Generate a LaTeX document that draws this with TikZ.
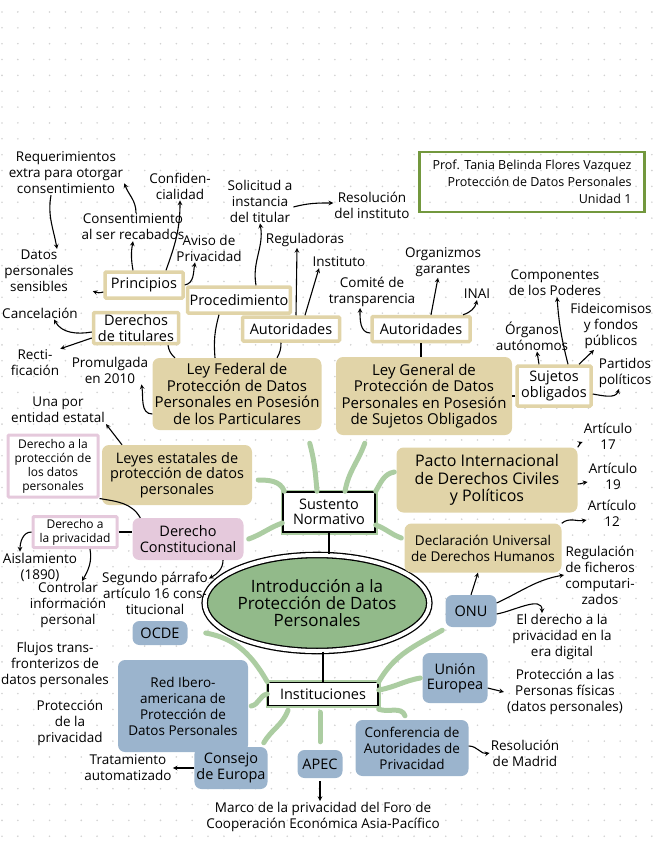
\documentclass[tikz,border=0pt]{standalone}
\usepackage{fontspec}
\setmainfont{Open Sans}
\usetikzlibrary{shapes.geometric}

\definecolor{beige}{RGB}{225,212,168}
\definecolor{rosa}{RGB}{229,201,220}
\definecolor{azul}{RGB}{155,180,205}
\definecolor{verdeF}{RGB}{146,186,138}
\definecolor{verdeR}{RGB}{172,205,162}
\definecolor{verdeT}{RGB}{115,152,62}

\newcommand\fA{\fontsize{13.5}{16}\selectfont}
\newcommand\fB{\fontsize{14.5}{15.5}\selectfont}
\newcommand\fL{\fontsize{15}{16.5}\selectfont}
\newcommand\fS{\fontsize{12}{14}\selectfont}
\newcommand\fC{\fontsize{17}{17}\selectfont}

\tikzset{
  nota/.style={font=\fA, align=center, inner sep=1pt},
  tam/.style 2 args={minimum width=#1pt, minimum height=#2pt},
  caja/.style={font=\fB, align=center, rounded corners=7pt, inner sep=2pt},
  cajabeige/.style={caja, fill=beige},
  marcobeige/.style={caja, fill=white, draw=beige, line width=3.5pt, rounded corners=1pt},
  cajarosa/.style={caja, fill=rosa},
  marcorosa/.style={caja, font=\fS, fill=white, draw=rosa, line width=3pt, rounded corners=1pt},
  cajaazul/.style={caja, fill=azul},
  cajanegra/.style={caja, fill=white, draw=black, line width=1.5pt, rounded corners=0pt,
    preaction={draw=verdeR, line width=5pt}},
  flecha/.style={->, line width=1.1pt},
  linea/.style={line width=1.1pt},
  rama/.style={verdeR, line width=5pt, line cap=round},
}

\begin{document}
\begin{tikzpicture}[>=stealth, x=1pt, y=1pt]

  \useasboundingbox (0,0) rectangle (656,-848);

  % 点阵
  \foreach \i in {0,...,41}
    \foreach \j in {0,...,52}
      \fill[gray!35] ({2+15.85*\i},{-12-15.85*\j}) circle (0.9pt);

  % 标题
  \node[draw=verdeT, line width=2.5pt, font=\fontsize{12.5}{17}\selectfont, align=right, tam={225}{60}, inner sep=4pt]
    (titulo) at (532,-182) {Prof. Tania Belinda Flores Vazquez\\Protección de Datos Personales\\Unidad 1};

  % 中心
  \node[ellipse, draw, double=white, double distance=4pt, line width=1.3pt, fill=verdeF,
    tam={214}{96}, font=\fC, align=center, inner sep=0pt]
    (centro) at (317,-603) {Introducción a la\\Protección de Datos\\Personales};
  \node[cajanegra, tam={92}{40}] (sust) at (329,-512) {Sustento\\Normativo};
  \node[cajanegra, tam={110}{23}] (inst) at (323,-694) {Instituciones};
  \draw[line width=2.5pt] (sust.south) -- (sust.south |- centro.north);
  \draw[line width=2.5pt] (inst.north |- centro.south) -- (inst.north);

  % 法规
  \node[cajabeige, font=\fL, tam={161}{72}] (leyfed) at (237,-394) {Ley Federal de\\Protección de Datos\\Personales en Posesión\\de los Particulares};
  \node[cajabeige, font=\fL, tam={176}{78}] (leygen) at (424,-396) {Ley General de\\Protección de Datos\\Personales en Posesión\\de Sujetos Obligados};
  \node[cajabeige, tam={150}{60}] (estatal) at (177,-475) {Leyes estatales de\\protección de datos\\personales};
  \node[cajabeige, font=\fontsize{16}{17.5}\selectfont, tam={181}{65}] (pacto) at (487,-480) {Pacto Internacional\\de Derechos Civiles\\y Políticos};
  \node[cajabeige, font=\fA, tam={157}{49}] (declar) at (483,-548) {Declaración Universal\\de Derechos Humanos};
  \node[marcobeige, tam={74}{40}] (sujetos) at (554,-386) {Sujetos\\obligados};
  \node[marcobeige, tam={98}{25}] (autder) at (421,-329) {Autoridades};
  \node[marcobeige, tam={97}{24}] (autizq) at (291,-329) {Autoridades};
  \node[marcobeige, tam={98}{26}] (proced) at (239,-300) {Procedimiento};
  \node[marcobeige, tam={78}{26}] (princ) at (144,-285) {Principios};
  \node[marcobeige, tam={85}{31}] (dertit) at (136,-328) {Derechos\\de titulares};

  % 宪法
  \node[cajarosa, tam={111}{42}] (dercons) at (188,-539) {Derecho\\Constitucional};
  \node[marcorosa, tam={90}{62}] (derprot) at (53,-466) {Derecho a la\\protección de\\los datos\\personales};
  \node[marcorosa, tam={84}{31}] (derpriv) at (75,-532) {Derecho a\\la privacidad};

  % 机构
  \node[cajaazul, tam={55}{24}] (ocde) at (160,-633) {OCDE};
  \node[cajaazul, font=\fA, tam={130}{92}] (redibero) at (183,-706) {Red Ibero-\\americana de\\Protección de\\Datos Personales};
  \node[cajaazul, tam={51}{32}] (onu) at (471,-611) {ONU};
  \node[cajaazul, tam={65}{50}] (union) at (455,-678) {Unión\\Europea};
  \node[cajaazul, font=\fA, tam={113}{56}] (confer) at (412,-748) {Conferencia de\\Autoridades de\\Privacidad};
  \node[cajaazul, tam={62}{42}] (consejo) at (231,-768) {Consejo\\de Europa};
  \node[cajaazul, tam={45}{28}] (apec) at (320,-764) {APEC};

  % 注释
  \node[nota] (req) at (66,-173) {Requerimientos\\extra para otorgar\\consentimiento};
  \node[nota] (consen) at (133,-227) {Consentimiento\\al ser recabados};
  \node[nota] (confid) at (180,-186) {Confiden-\\cialidad};
  \node[nota] (aviso) at (209,-248) {Aviso de\\Privacidad};
  \node[nota] (datsens) at (39,-271) {Datos\\personales\\sensibles};
  \node[nota] (solic) at (260,-201) {Solicitud a\\instancia\\del titular};
  \node[nota] (resol) at (372,-205) {Resolución\\del instituto};
  \node[nota] (regul) at (305,-240) {Reguladoras};
  \node[nota] (insti) at (339,-262) {Instituto};
  \node[nota] (comite) at (372,-292) {Comité de\\transparencia};
  \node[nota] (organ) at (443,-262) {Organizmos\\garantes};
  \node[nota] (inai) at (477,-294) {INAI};
  \node[nota] (compo) at (555,-283) {Componentes\\de los Poderes};
  \node[nota] (fideic) at (611,-326) {Fideicomisos\\y fondos\\públicos};
  \node[nota] (organos) at (532,-336) {Órganos\\autónomos};
  \node[nota] (partid) at (625,-373) {Partidos\\políticos};
  \node[nota] (cancel) at (40,-313) {Cancelación};
  \node[nota] (rectif) at (35,-363) {Recti-\\ficación};
  \node[nota] (promul) at (110,-370) {Promulgada\\en 2010};
  \node[nota] (unapor) at (58,-410) {Una por\\entidad estatal};
  \node[nota] (art17) at (608,-436) {Artículo\\17};
  \node[nota] (art19) at (613,-476) {Artículo\\19};
  \node[nota] (art12) at (612,-513) {Artículo\\12};
  \node[nota] (aislam) at (40,-567) {Aislamiento\\(1890)};
  \node[nota] (control) at (68,-605) {Controlar\\información\\personal};
  \node[nota] (segundo) at (155,-593) {Segundo párrafo\\artículo 16 cons-\\titucional};
  \node[nota] (flujos) at (55,-665) {Flujos trans-\\fronterizos de\\datos personales};
  \node[nota] (protpriv) at (70,-723) {Protección\\de la\\privacidad};
  \node[nota] (regfich) at (600,-575) {Regulación\\de ficheros\\computari-\\zados};
  \node[nota] (erad) at (562,-637) {El derecho a la\\privacidad en la\\era digital};
  \node[nota] (protfis) at (565,-692) {Protección a las\\Personas físicas\\(datos personales)};
  \node[nota] (tratam) at (128,-768) {Tratamiento\\automatizado};
  \node[nota] (madrid) at (525,-753) {Resolución\\de Madrid};
  \node[nota] (marco) at (323,-817) {Marco de la privacidad del Foro de\\Cooperación Económica Asia-Pacífico};

  % 绿色分支
  \draw[rama] ([xshift=-12pt]sust.north) to[out=95,in=-75] ([shift={(-12pt,-13pt)}]leyfed.south east);
  \draw[rama] ([xshift=16pt]sust.north) to[out=80,in=-110] ([shift={(29pt,-8pt)}]leygen.south west);
  \draw[rama] ([xshift=2pt]sust.north west) to[out=110,in=0] ([shift={(6pt,-5pt)}]estatal.east);
  \draw[rama] (sust.north east) to[out=60,in=190] ([shift={(-2pt,8pt)}]pacto.west);
  \draw[rama] ([yshift=-11pt]sust.west) to[out=200,in=20] ([xshift=5pt]dercons.east);
  \draw[rama] ([yshift=-13pt]sust.east) to[out=-20,in=160] ([shift={(-3pt,10pt)}]declar.west);
  \draw[rama] ([xshift=18pt]ocde.east) to[out=-10,in=120] (inst.north west);
  \draw[rama] (inst.west) to[out=190,in=10] ([xshift=3pt]redibero.east);
  \draw[rama] ([shift={(-35pt,-4pt)}]inst.south) to[out=-110,in=60] ([shift={(-4pt,4pt)}]consejo.north east);
  \draw[rama, shorten <=6pt, shorten >=8pt] (inst.south -| apec.north) -- (apec.north);
  \draw[rama] ([yshift=-3pt]inst.south east) to[out=-20,in=110] ([shift={(-7pt,4pt)}]confer.north);
  \draw[rama] ([yshift=4pt]inst.east) to[out=10,in=190] ([xshift=-2pt]union.west);
  \draw[rama] (inst.north east) to[out=60,in=210] ([shift={(-3pt,-3pt)}]onu.south west);

  % 连线
  \draw[linea] (leygen.east) -- (leygen.east -| sujetos.west);
  \draw[linea] (autder.south) -- (autder.south |- leygen.north);
  \draw[linea] ([xshift=-10pt]autizq.south) to[bend left=15] ([xshift=40pt]leyfed.north);
  \draw[linea] ([xshift=-20pt]proced.south) to[bend right=10] ([xshift=-22pt]leyfed.north);
  \draw[linea] ([xshift=32pt]dertit.south) to[bend right=20] ([xshift=-62pt]leyfed.north);
  \draw[linea] (derprot.south east) to[out=-10,in=120] ([xshift=8pt]dercons.north west);
  \draw[linea] (derpriv.east) -- (derpriv.east -| dercons.west);

  % 箭头
  \draw[flecha] ([xshift=-11pt]princ.north) to[bend left=10] (consen.south);
  \draw[flecha] ([xshift=22pt]princ.north) to[out=70,in=-90] (confid.south);
  \draw[flecha] (princ.east) to[out=10,in=-100] ([xshift=-14pt]aviso.south);
  \draw[flecha] ([yshift=-7pt]princ.west) to[out=200,in=-20] ([shift={(18pt,2pt)}]datsens.south east);
  \draw[flecha] ([xshift=3pt]consen.north) to[out=90,in=-70] ([yshift=12pt]req.south east);
  \draw[flecha] ([xshift=-15pt]req.south) to[out=-100,in=100] ([xshift=18pt]datsens.north);
  \draw[flecha] ([xshift=17pt]proced.north) to[out=100,in=-80] (solic.south);
  \draw[flecha] ([yshift=-6pt]solic.east) to[out=15,in=180] ([yshift=2pt]resol.west);
  \draw[flecha] ([xshift=5pt]autizq.north) -- ([xshift=-8pt]regul.south);
  \draw[flecha] ([xshift=14pt]autizq.north) -- ([xshift=-20pt]insti.south);
  \draw[flecha] ([yshift=-4pt]autder.west) to[out=180,in=-90] ([xshift=-12pt]comite.south);
  \draw[flecha] ([xshift=10pt]autder.north) -- ([xshift=-5pt]organ.south);
  \draw[flecha] ([xshift=42pt]autder.north) to[bend right=30] (inai.south);
  \draw[flecha] ([xshift=-15pt]sujetos.north) -- ([xshift=5pt]organos.south);
  \draw[flecha] ([xshift=14pt]sujetos.north) to[bend left=5] ([xshift=2pt]compo.south);
  \draw[flecha] ([xshift=25pt]sujetos.north) -- ([xshift=-17pt]fideic.south);
  \draw[flecha] ([yshift=-8pt]sujetos.east) to[out=-10,in=-110] ([xshift=-6pt]partid.south);
  \draw[flecha] ([yshift=-4pt]dertit.west) to[out=190,in=-60] ([xshift=14pt]cancel.south);
  \draw[flecha] ([yshift=-10pt]dertit.west) -- (rectif.north east);
  \draw[flecha] ([yshift=-20pt]leyfed.west) to[out=180,in=-80] ([xshift=-8pt]promul.south east);
  \draw[flecha] ([xshift=-55pt]estatal.north) -- (unapor.south east);
  \draw[flecha] (derpriv.west) to[out=180,in=90] ([xshift=-20pt]aislam.north);
  \draw[flecha] ([xshift=15pt]derpriv.south) to[out=-80,in=60] ([xshift=14pt]control.north);
  \draw[flecha] ([xshift=35pt]dercons.south) to[out=-90,in=30] ([yshift=-8pt]segundo.north east);
  \draw[flecha] (onu.north) -- ([xshift=-5pt]declar.south);
  \draw[flecha] ([yshift=8pt]onu.east) to[out=25,in=190] (regfich.west);
  \draw[flecha] ([yshift=-3pt]onu.east) to[out=10,in=90] ([xshift=-20pt]erad.north);
  \draw[flecha] (declar.north east) to[out=40,in=190] ([yshift=-7pt]art12.west);
  \draw[flecha] (pacto.north east) to[out=40,in=200] ([yshift=-6pt]art17.west);
  \draw[flecha] ([yshift=-4pt]pacto.east) to[out=0,in=190] ([yshift=-6pt]art19.west);
  \draw[flecha] ([yshift=-10pt]union.east) -- ([xshift=-2pt]protfis.west);
  \draw[flecha] ([yshift=2pt]confer.east) to[out=0,in=190] (madrid.west);
  \draw[flecha] (consejo.west) -- (tratam.east);
  \draw[flecha, shorten <=3pt] (apec.south) -- (apec.south |- marco.north);

\end{tikzpicture}
\end{document}
